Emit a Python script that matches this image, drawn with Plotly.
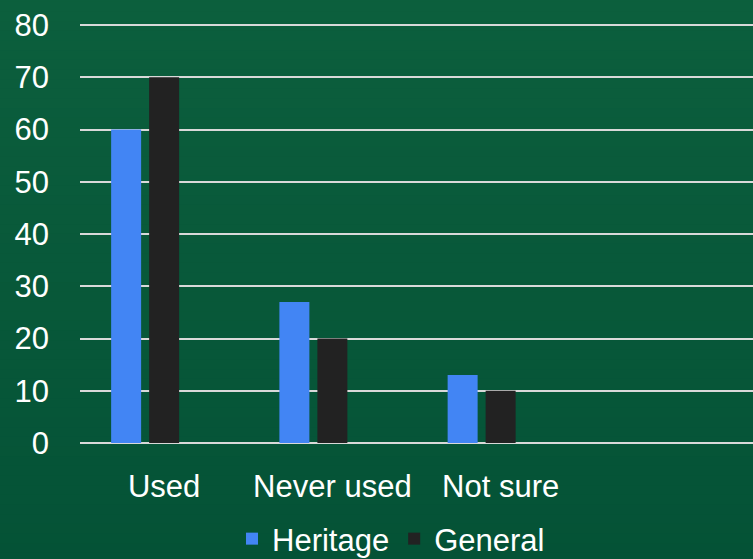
import plotly.graph_objects as go

categories = ["Used", "Never used", "Not sure"]
heritage = [60, 27, 13]
general = [70, 20, 10]
y_ticks = [0, 10, 20, 30, 40, 50, 60, 70, 80]

FONT = "Liberation Sans, Arial, sans-serif"
W, H = 753, 559
slot = 673 / 4.0
bw = 30 / slot
PH = 420  # plot height in px

fig = go.Figure()
fig.add_trace(go.Bar(name="Heritage", x=categories, y=heritage,
                     marker=dict(color="#4285F4", line=dict(width=0)),
                     width=bw, offset=-53 / slot))
fig.add_trace(go.Bar(name="General", x=categories, y=general,
                     marker=dict(color="#222222", line=dict(width=0)),
                     width=bw, offset=-15 / slot))

# vertical gradient background built from strips
top = (12, 95, 61)
bot = (4, 82, 54)
n = 60
shapes = []
y0p = -130 / PH
y1p = (PH + 30) / PH
for i in range(n):
    t = i / (n - 1)
    c = tuple(round(top[k] + (bot[k] - top[k]) * t) for k in range(3))
    a = y1p - (y1p - y0p) * i / n
    b = y1p - (y1p - y0p) * (i + 1) / n
    shapes.append(dict(type="rect", xref="paper", yref="paper",
                       x0=-0.3, x1=1.2, y0=b - 0.002, y1=a + 0.002,
                       fillcolor="rgb(%d,%d,%d)" % c, line=dict(width=0),
                       layer="below"))

fig.update_layout(
    width=W, height=H,
    margin=dict(l=80, r=0, t=23, b=116, autoexpand=False),
    paper_bgcolor="rgb(8,88,58)",
    plot_bgcolor="rgba(0,0,0,0)",
    shapes=shapes,
    font=dict(family=FONT, size=31, color="white"),
    barmode="group",
    showlegend=True,
    legend=dict(orientation="h", x=(391 - 80) / 673, xanchor="center",
                y=-(539 - 443) / PH, yanchor="middle",
                font=dict(family=FONT, size=31, color="white"),
                bgcolor="rgba(0,0,0,0)", itemwidth=30, tracegroupgap=0),
    xaxis=dict(type="category", range=[-0.5, 3.5], showgrid=False,
               showline=False, zeroline=False, ticks="",
               ticklabelstandoff=22,
               tickfont=dict(family=FONT, size=31, color="white")),
    yaxis=dict(range=[0, 80.4], tickvals=y_ticks, showgrid=True,
               gridcolor="#d9d9d9", gridwidth=2, zeroline=True,
               zerolinecolor="#d9d9d9", zerolinewidth=2, showline=False,
               ticks="", ticklabelstandoff=30,
               tickfont=dict(family=FONT, size=31, color="white")),
)

fig.write_html("out.html",
               config={"displayModeBar": False},
               post_script="document.body.style.margin='0';"
                           "document.body.style.overflow='hidden';")
